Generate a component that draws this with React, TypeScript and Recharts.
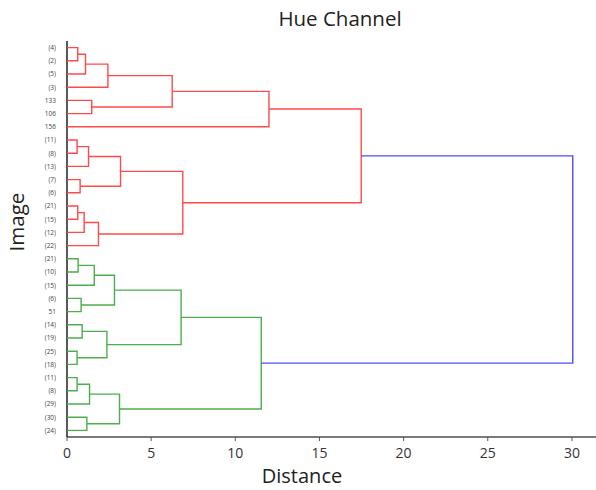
import React from "react";
import { ScatterChart, Scatter, XAxis, YAxis } from "recharts";

// Leaf labels, top to bottom
const leafLabels = [
  "(4)", "(2)", "(5)", "(3)", "133", "106", "156",
  "(11)", "(8)", "(13)", "(7)", "(6)", "(21)", "(15)", "(12)", "(22)",
  "(21)", "(10)", "(15)", "(6)", "51", "(14)", "(19)", "(25)", "(18)",
  "(11)", "(8)", "(29)", "(30)", "(24)",
];

// Merge table: [childA, childB, distance]; node ids: leaves 0..29, merges 30..
const mergeA = [0, 30, 31, 4, 32, 34, 7, 36, 10, 37, 12, 40, 41, 39, 35, 16, 45, 19, 46, 21, 23, 49, 48, 25, 53, 28, 54, 52, 44];
const mergeB = [1, 2, 3, 5, 33, 6, 8, 9, 11, 38, 13, 14, 15, 42, 43, 17, 18, 20, 47, 22, 24, 50, 51, 26, 27, 29, 55, 56, 57];
const mergeDist = [
  0.64, 1.1, 2.43, 1.47, 6.25, 12.0, 0.6, 1.28, 0.78, 3.18, 0.64, 1.02, 1.87, 6.88, 17.48,
  0.66, 1.62, 0.84, 2.82, 0.9, 0.6, 2.37, 6.78, 0.6, 1.34, 1.18, 3.12, 11.54,
  30.05,
];
const mergeColor = [
  "r", "r", "r", "r", "r", "r", "r", "r", "r", "r", "r", "r", "r", "r", "r",
  "g", "g", "g", "g", "g", "g", "g", "g", "g", "g", "g", "g", "g",
  "b",
];
const xTicks = [0, 5, 10, 15, 20, 25, 30];

const colorMap: Record<string, string> = { r: "#ff4a4a", g: "#4cae4c", b: "#4d4dff" };

const nLeaves = leafLabels.length;
const leafY = leafLabels.map((_, i) => 5 + 10 * i);

const nodeY: number[] = [...leafY];
const nodeX: number[] = leafLabels.map(() => 0);
const links = mergeA.map((a, k) => {
  const b = mergeB[k];
  const d = mergeDist[k];
  const pts = [
    { x: nodeX[a], y: nodeY[a] },
    { x: d, y: nodeY[a] },
    { x: d, y: nodeY[b] },
    { x: nodeX[b], y: nodeY[b] },
  ];
  nodeY[nLeaves + k] = (nodeY[a] + nodeY[b]) / 2;
  nodeX[nLeaves + k] = d;
  return { pts, color: colorMap[mergeColor[k]] };
});

const textFont = "'Open Sans', 'Noto Sans', sans-serif";

export default function App() {
  return (
    <div style={{ position: "absolute", left: 0, top: 0, width: 596, height: 490, background: "#fff", fontFamily: textFont, overflow: "hidden" }}>
      <ScatterChart width={596} height={490} margin={{ top: 41, right: 0, bottom: 0, left: 0 }}>
        <XAxis
          xAxisId="top"
          orientation="top"
          type="number"
          dataKey="x"
          domain={[0, 31.43]}
          tick={false}
          tickLine={false}
          height={0}
          axisLine={{ stroke: "#7a7a7a", strokeWidth: 2 }}
        />
        <XAxis
          type="number"
          dataKey="x"
          domain={[0, 31.43]}
          ticks={xTicks}
          allowDataOverflow
          height={53}
          tickSize={4}
          tickMargin={7}
          axisLine={{ stroke: "#7a7a7a", strokeWidth: 2 }}
          tickLine={{ stroke: "#555" }}
          tick={{ fontSize: 14, fill: "#333", fontFamily: textFont }}
        />
        <YAxis
          type="number"
          dataKey="y"
          domain={[0, 300]}
          reversed
          ticks={leafY}
          interval={0}
          width={67}
          tickSize={0}
          tickMargin={11}
          tickLine={false}
          axisLine={{ stroke: "#222", strokeWidth: 1.5 }}
          tick={{ fontSize: 6.5, fill: "#444", fontFamily: textFont }}
          tickFormatter={(v: number) => leafLabels[Math.round((v - 5) / 10)] ?? ""}
        />
        {links.map((l, i) => (
          <Scatter
            key={i}
            data={l.pts}
            line={{ stroke: l.color, strokeWidth: 1.4 }}
            lineJointType="linear"
            shape={() => <g />}
            isAnimationActive={false}
          />
        ))}
      </ScatterChart>
      <div style={{ position: "absolute", left: 240, width: 200, top: 6, textAlign: "center", fontSize: 20.5, color: "#222", lineHeight: "24px" }}>
        Hue Channel
      </div>
      <div style={{ position: "absolute", left: 202, width: 200, top: 466, textAlign: "center", fontSize: 20, color: "#222", lineHeight: "20px" }}>
        Distance
      </div>
      <div
        style={{
          position: "absolute",
          left: 16 - 50,
          top: 222 - 12,
          width: 100,
          textAlign: "center",
          fontSize: 20.5,
          color: "#222",
          lineHeight: "24px",
          transform: "rotate(-90deg)",
        }}
      >
        Image
      </div>
    </div>
  );
}
